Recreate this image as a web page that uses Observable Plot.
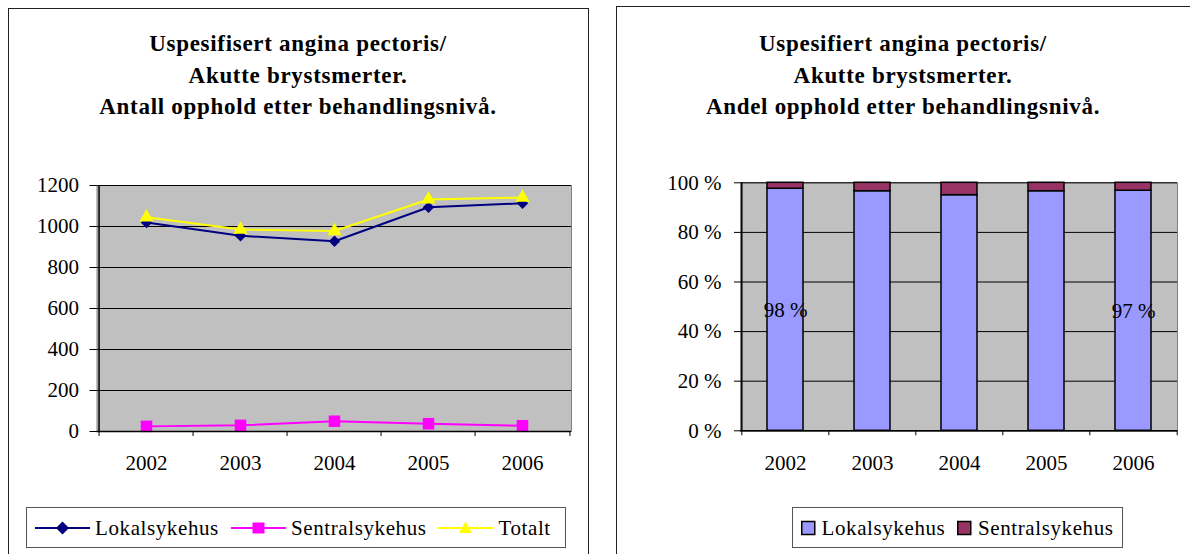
<!DOCTYPE html>
<html><head><meta charset="utf-8">
<script src="https://cdn.jsdelivr.net/npm/d3@7"></script>
<script src="https://cdn.jsdelivr.net/npm/@observablehq/plot@0.6"></script>
<style>
html,body{margin:0;padding:0}
body{width:1190px;height:554px;overflow:hidden;background:#fff;font-family:"Liberation Serif","DejaVu Serif",serif;position:relative;color:#000}
.panel{position:absolute;border:1.5px solid #222;box-sizing:border-box;background:#fff}
.title{position:absolute;text-align:center;font-weight:bold;font-size:23px;line-height:31.5px;white-space:nowrap;letter-spacing:0.7px}
.plot{position:absolute}
.legend{position:absolute;border:1px solid #555;box-sizing:border-box;font-size:21px}
.legend span{position:absolute;top:50%;transform:translateY(-50%);white-space:nowrap;line-height:1;letter-spacing:0.6px}
.legend svg{position:absolute;top:0}
</style></head><body>
<div class="panel" style="left:8px;top:8px;width:581px;height:570px"></div>
<div class="panel" style="left:616px;top:6px;width:580px;height:570px"></div>
<div class="title" style="left:8px;width:580px;top:28px">Uspesifisert angina pectoris/<br>Akutte brystsmerter.<br>Antall opphold etter behandlingsnivå.</div>
<div class="title" style="left:616px;width:574px;top:28px">Uspesifiert angina pectoris/<br>Akutte brystsmerter.<br>Andel opphold etter behandlingsnivå.</div>
<div id="left" class="plot" style="left:8px;top:170px"></div>
<div id="right" class="plot" style="left:616px;top:170px"></div>
<div class="legend" id="legL" style="left:26px;top:507px;width:540px;height:41px"></div>
<div class="legend" id="legR" style="left:792px;top:507px;width:331px;height:41px"></div>
<script>
// ---- data ----
const years = ["2002", "2003", "2004", "2005", "2006"];
const lokalsykehus = [1020, 955, 928, 1094, 1113];
const sentralsykehus = [25, 30, 50, 38, 28];
const totalt = [1045, 985, 978, 1132, 1141];
const countTicks = [0, 200, 400, 600, 800, 1000, 1200];
const lokalPct = [97.6, 96.6, 95.0, 96.6, 96.8];
const sentralPct = [2.4, 3.4, 5.0, 3.4, 3.2];
const pctTicks = [0, 20, 40, 60, 80, 100];
const labelledYears = ["2002", "2006"];
const seriesNames = ["Lokalsykehus", "Sentralsykehus", "Totalt"];
const seriesColors = ["#000080", "#ff00ff", "#ffff00"];
const seriesSymbols = ["diamond2", "square", "triangle"];
const barColors = ["#9999ff", "#993366"];

const font = {fontFamily: "'Liberation Serif','DejaVu Serif',serif", fontSize: "21px", color: "#000", background: "transparent", overflow: "visible"};

// ---- left chart ----
{
  const W = 580, H = 320, mL = 88.5, mR = 17, mT = 15, mB = 59;
  const step = (W - mL - mR) / years.length;
  const seriesValues = [lokalsykehus, sentralsykehus, totalt];
  const marks = [
    Plot.frame({fill: "#c0c0c0", stroke: "#808080"}),
    Plot.ruleY(countTicks, {stroke: "#000", strokeWidth: 1})
  ];
  seriesValues.forEach((vals, s) => {
    const rows = years.map((y, i) => ({year: y, value: vals[i]}));
    marks.push(Plot.line(rows, {x: "year", y: "value", stroke: seriesColors[s], strokeWidth: 2}));
  });
  const r = [5.2, 6.5, 5.3];
  seriesValues.forEach((vals, s) => {
    const rows = years.map((y, i) => ({year: y, value: vals[i]}));
    marks.push(Plot.dot(rows, {x: "year", y: "value", symbol: seriesSymbols[s], fill: seriesColors[s], stroke: "none", r: r[s]}));
  });
  marks.push(
    Plot.ruleX([years[0]], {dx: -step / 2, stroke: "#000", strokeWidth: 1.5}),
    Plot.ruleY([0], {stroke: "#000", strokeWidth: 1.5}),
    Plot.axisY({ticks: countTicks, tickSize: 7, tickPadding: 11, tickFormat: d => String(d), stroke: "#000"}),
    Plot.axisX({tickSize: 0, tickPadding: 24}),
    Plot.axisX({tickSize: 5, tickFormat: () => "", dx: -step / 2, stroke: "#000"}),
    Plot.axisX({ticks: [years[years.length - 1]], tickSize: 5, tickFormat: () => "", dx: step / 2, stroke: "#000"})
  );
  const chart = Plot.plot({
    width: W, height: H, marginLeft: mL, marginRight: mR, marginTop: mT, marginBottom: mB,
    style: font,
    x: {type: "band", domain: years, padding: 0, label: null},
    y: {domain: [0, 1200], label: null},
    marks
  });
  document.getElementById("left").append(chart);
}

// ---- right chart ----
{
  const W = 573, H = 320, mL = 124, mR = 12, mT = 12.3, mB = 59.7;
  const step = (W - mL - mR) / years.length;
  const rows = [];
  years.forEach((y, i) => {
    rows.push({year: y, series: "Lokalsykehus", value: lokalPct[i]});
    rows.push({year: y, series: "Sentralsykehus", value: sentralPct[i]});
  });
  const labels = years.map((y, i) => ({year: y, value: lokalPct[i]})).filter(d => labelledYears.includes(d.year));
  const chart = Plot.plot({
    width: W, height: H, marginLeft: mL, marginRight: mR, marginTop: mT, marginBottom: mB,
    style: font,
    x: {type: "band", domain: years, paddingInner: 0.59, paddingOuter: 0.295, label: null},
    y: {domain: [0, 100], label: null},
    color: {domain: ["Lokalsykehus", "Sentralsykehus"], range: barColors},
    marks: [
      Plot.frame({fill: "#c0c0c0", stroke: "#808080"}),
      Plot.ruleY(pctTicks, {stroke: "#000", strokeWidth: 1}),
      Plot.barY(rows, {x: "year", y: "value", fill: "series", stroke: "#000", strokeWidth: 1.5}),
      Plot.text(labels, {x: "year", y: d => d.value / 2, text: d => Math.round(d.value) + " %", fill: "#000", fontSize: 21}),
      Plot.ruleX([years[0]], {dx: -step / 2, stroke: "#000", strokeWidth: 1.5}),
      Plot.ruleY([0], {stroke: "#000", strokeWidth: 1.5}),
      Plot.axisY({ticks: pctTicks, tickSize: 6, tickPadding: 13, tickFormat: d => d + " %", stroke: "#000"}),
      Plot.axisX({tickSize: 0, tickPadding: 24}),
      Plot.axisX({tickSize: 5, tickFormat: () => "", dx: -step / 2, stroke: "#000"}),
      Plot.axisX({ticks: [years[years.length - 1]], tickSize: 5, tickFormat: () => "", dx: step / 2, stroke: "#000"})
    ]
  });
  document.getElementById("right").append(chart);
}

// ---- legends ----
{
  const ns = "http://www.w3.org/2000/svg";
  const legL = document.getElementById("legL");
  const pos = [[8, 68], [204, 264], [410.5, 471.5]];
  const symPaths = [
    "M0,-6.5L6.5,0L0,6.5L-6.5,0Z",
    "M-6,-5.5H6V5.5H-6Z",
    "M0,-6.5L6.5,5L-6.5,5Z"
  ];
  seriesNames.forEach((name, s) => {
    const svg = document.createElementNS(ns, "svg");
    svg.setAttribute("width", 56); svg.setAttribute("height", 39);
    svg.style.left = pos[s][0] + "px";
    svg.innerHTML = `<line x1="0" x2="55" y1="20" y2="20" stroke="${seriesColors[s]}" stroke-width="2"/><path transform="translate(27.5,20)" d="${symPaths[s]}" fill="${seriesColors[s]}"/>`;
    legL.append(svg);
    const sp = document.createElement("span");
    sp.textContent = name; sp.style.left = pos[s][1] + "px";
    legL.append(sp);
  });
  const legR = document.getElementById("legR");
  const posR = [[8, 28.5], [164, 185]];
  ["Lokalsykehus", "Sentralsykehus"].forEach((name, s) => {
    const svg = document.createElementNS(ns, "svg");
    svg.setAttribute("width", 16); svg.setAttribute("height", 39);
    svg.style.left = posR[s][0] + "px";
    svg.innerHTML = `<rect x="0.75" y="13.5" width="13" height="13" fill="${barColors[s]}" stroke="#000" stroke-width="1.5"/>`;
    legR.append(svg);
    const sp = document.createElement("span");
    sp.textContent = name; sp.style.left = posR[s][1] + "px";
    legR.append(sp);
  });
}
</script>
</body></html>
